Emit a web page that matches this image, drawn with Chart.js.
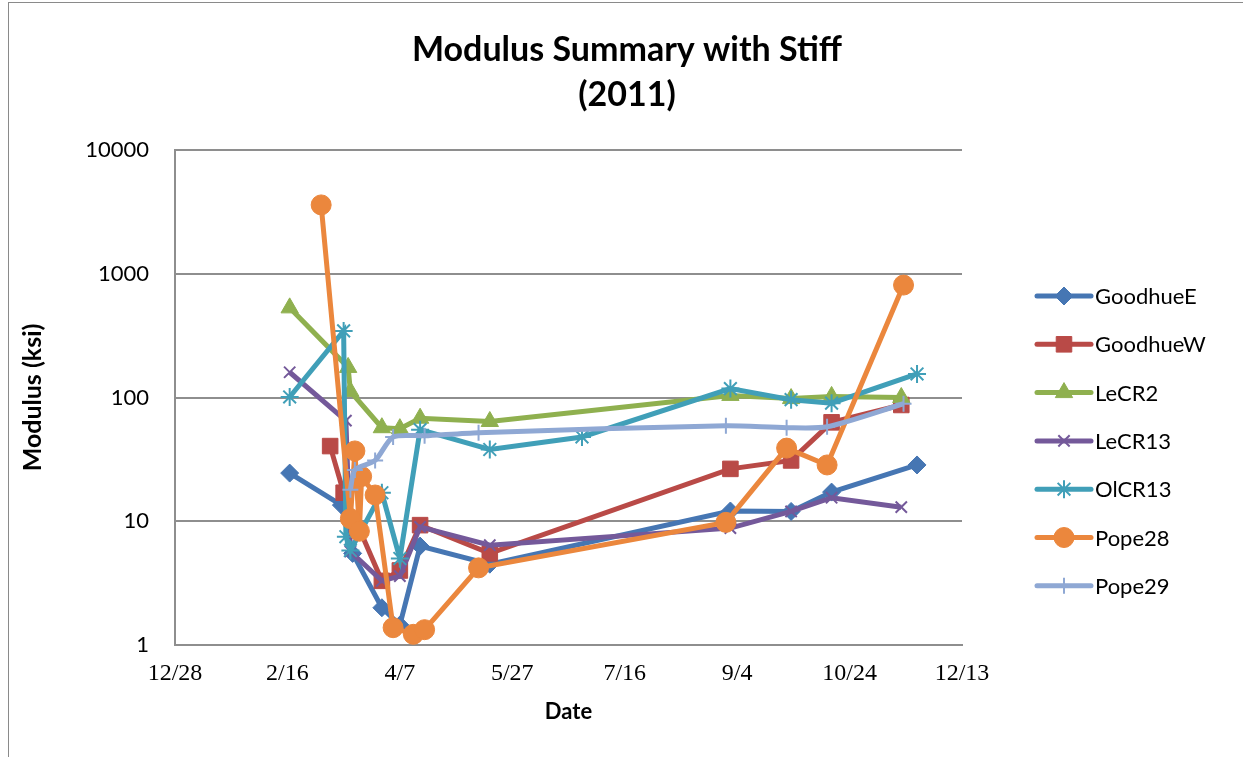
<!DOCTYPE html>
<html>
<head>
<meta charset="utf-8">
<title>Modulus Summary with Stiff (2011)</title>
<script src="https://cdn.jsdelivr.net/npm/chart.js@4/dist/chart.umd.min.js"></script>
<style>
  html, body { margin: 0; padding: 0; background: #fff; }
  canvas { display: block; }
</style>
</head>
<body>
<canvas id="modulus-chart" width="1243" height="757"></canvas>
<script>
// x axis runs in days counted from 12/28/2010
const xTickLabels = ['12/28', '2/16', '4/7', '5/27', '7/16', '9/4', '10/24', '12/13'];
const yTickValues = [1, 10, 100, 1000, 10000];
const titleLines = ['Modulus Summary with Stiff', '(2011)'];

const seriesNames = ['GoodhueE', 'GoodhueW', 'LeCR2', 'LeCR13', 'OlCR13', 'Pope28', 'Pope29'];

const goodhueEDates = ['2/17', '3/12', '3/17', '3/30', '4/7', '4/16', '5/17', '9/1', '9/28', '10/16', '11/23'];
const goodhueEValues = [24.5, 13.5, 5.5, 2.0, 1.45, 6.3, 4.5, 12.1, 12, 17.2, 28.5];

const goodhueWDates = ['3/7', '3/13', '3/30', '4/7', '4/16', '5/17', '9/1', '9/28', '10/16', '11/16'];
const goodhueWValues = [40.5, 17, 3.3, 4.0, 9.3, 5.5, 26.5, 31, 63, 87];

const leCR2Dates = ['2/17', '3/15', '3/16', '3/30', '4/7', '4/16', '5/17', '9/1', '9/28', '10/16', '11/16'];
const leCR2Values = [530, 175, 112, 57, 56, 68, 64, 104, 98, 102, 100];

const leCR13Dates = ['2/17', '3/14', '3/16', '3/30', '4/7', '4/16', '5/17', '9/1', '9/28', '10/16', '11/16'];
const leCR13Values = [160, 65, 5.7, 3.3, 3.6, 9.0, 6.4, 8.8, 12, 15.5, 13];

const olCR13Dates = ['2/17', '3/13', '3/14', '3/16', '3/30', '4/7', '4/16', '5/17', '6/27', '9/1', '9/28', '10/16', '11/23'];
const olCR13Values = [101, 345, 7.5, 5.8, 17, 5, 55, 38, 48, 118, 96, 90, 155];

const pope28Dates = ['3/3', '3/16', '3/18', '3/20', '3/21', '3/27', '4/4', '4/13', '4/18', '5/12', '8/30', '9/26', '10/14', '11/17'];
const pope28Values = [3600, 10.5, 37, 8.3, 23, 16.3, 1.38, 1.22, 1.33, 4.2, 9.8, 39, 28.5, 810];

const pope29Dates = ['3/16', '3/18', '3/27', '4/4', '4/18', '5/12', '8/30', '9/26', '10/14', '11/17'];
const pope29Values = [18, 26, 31, 48, 49, 52, 59, 57, 58, 89];

const seriesColors = ['#4676B3', '#B94A47', '#8FB04F', '#74599A', '#409FB8', '#EB873D', '#8FA8D4'];
const seriesMarkers = ['rectRot', 'rect', 'triangle', 'crossRot', 'star', 'circle', 'cross'];
const markerRadius = [9, 11, 10, 8, 9, 10, 8];

const dayZero = Date.UTC(2010, 11, 28);
const toDay = (md) => {
    const [m, d] = md.split('/').map(Number);
    return (Date.UTC(2011, m - 1, d) - dayZero) / 86400000;
};
const toPoints = (dates, values) => dates.map((md, i) => ({ x: toDay(md), y: values[i] }));

const seriesData = [
    toPoints(goodhueEDates, goodhueEValues),
    toPoints(goodhueWDates, goodhueWValues),
    toPoints(leCR2Dates, leCR2Values),
    toPoints(leCR13Dates, leCR13Values),
    toPoints(olCR13Dates, olCR13Values),
    toPoints(pope28Dates, pope28Values),
    toPoints(pope29Dates, pope29Values),
];

const isStroked = (style) => ['cross', 'crossRot', 'star'].includes(style);

const datasets = seriesNames.map((name, i) => ({
    label: name,
    data: seriesData[i],
    showLine: true,
    borderColor: seriesColors[i],
    backgroundColor: seriesColors[i],
    borderWidth: 5,
    pointStyle: seriesMarkers[i],
    pointRadius: markerRadius[i],
    pointBorderWidth: isStroked(seriesMarkers[i]) ? 2 : 1,
    pointBorderColor: seriesColors[i],
    pointBackgroundColor: seriesColors[i],
    tension: name === 'Pope29' ? 0.25 : 0,
    order: seriesNames.length - 1 - i,
}));

const FONT = 'Lato, "Liberation Sans", sans-serif';
const GRID = '#8e8e8e';

// white page, thin outer frame and the two-line title over the whole chart
const framePlugin = {
    id: 'frame',
    beforeDraw(chart) {
        const { ctx, width, height } = chart;
        ctx.save();
        ctx.fillStyle = '#fff';
        ctx.fillRect(0, 0, width, height);
        ctx.strokeStyle = '#8a8a8a';
        ctx.lineWidth = 1;
        ctx.strokeRect(8.5, 2.5, width + 20, height + 20);
        ctx.fillStyle = '#000';
        ctx.font = 'bold 34px ' + FONT;
        ctx.textAlign = 'center';
        ctx.textBaseline = 'middle';
        titleLines.forEach((line, i) => ctx.fillText(line, 627, 50 + i * 45));
        ctx.restore();
    },
};

// Excel-like legend: line with marker in the middle, name to the right
const sideLegend = {
    id: 'sideLegend',
    afterDraw(chart) {
        const { ctx } = chart;
        const x0 = 1037, x1 = 1091, top = 296, step = 48.3;
        ctx.save();
        chart.data.datasets.forEach((ds, i) => {
            const y = top + i * step;
            ctx.strokeStyle = ds.borderColor;
            ctx.lineWidth = 5;
            ctx.lineCap = 'round';
            ctx.beginPath();
            ctx.moveTo(x0, y);
            ctx.lineTo(x1, y);
            ctx.stroke();
            ctx.fillStyle = ds.pointBackgroundColor;
            ctx.strokeStyle = ds.pointBorderColor;
            ctx.lineWidth = ds.pointBorderWidth;
            ctx.lineCap = 'butt';
            Chart.helpers.drawPoint(ctx, {
                pointStyle: ds.pointStyle,
                radius: ds.pointRadius,
                rotation: 0,
                borderWidth: ds.pointBorderWidth,
            }, (x0 + x1) / 2, y);
            ctx.fillStyle = '#000';
            ctx.font = '22px ' + FONT;
            ctx.textBaseline = 'middle';
            ctx.textAlign = 'left';
            ctx.fillText(ds.label, x1 + 4, y + 1);
        });
        ctx.restore();
    },
};

new Chart(document.getElementById('modulus-chart').getContext('2d'), {
    type: 'scatter',
    data: { datasets },
    plugins: [framePlugin, sideLegend],
    options: {
        responsive: false,
        animation: false,
        devicePixelRatio: 1,
        layout: { padding: { left: 0, right: 281, top: 150, bottom: 0 } },
        plugins: {
            legend: { display: false },
            tooltip: { enabled: false },
            title: { display: false },
        },
        scales: {
            x: {
                type: 'linear',
                min: 0,
                max: 350,
                afterFit: (scale) => { scale.height = 112; },
                afterBuildTicks: (scale) => {
                    scale.ticks = xTickLabels.map((_, i) => ({ value: i * 50 }));
                },
                ticks: {
                    callback: (value, index) => xTickLabels[index],
                    color: '#000',
                    font: { family: '"Liberation Serif", serif', size: 24 },
                    padding: 14,
                    maxRotation: 0,
                    autoSkip: false,
                },
                grid: { display: false, drawTicks: false },
                border: { display: true, color: GRID, width: 2 },
                title: {
                    display: true,
                    text: 'Date',
                    color: '#000',
                    font: { family: FONT, size: 22, weight: 'bold' },
                    padding: { top: 0, bottom: 32 },
                },
            },
            y: {
                type: 'logarithmic',
                min: 1,
                max: 10000,
                afterFit: (scale) => { scale.width = 175; },
                afterBuildTicks: (scale) => {
                    scale.ticks = yTickValues.map((v) => ({ value: v }));
                },
                ticks: {
                    callback: (value) => String(value),
                    color: '#000',
                    font: { family: FONT, size: 22 },
                    padding: 26,
                },
                grid: { color: GRID, lineWidth: 2, drawTicks: false },
                border: { display: true, color: GRID, width: 2 },
                title: {
                    display: true,
                    text: 'Modulus (ksi)',
                    color: '#000',
                    font: { family: FONT, size: 25, weight: 'bold' },
                    padding: { top: 18, bottom: 0 },
                },
            },
        },
    },
});
</script>
</body>
</html>
